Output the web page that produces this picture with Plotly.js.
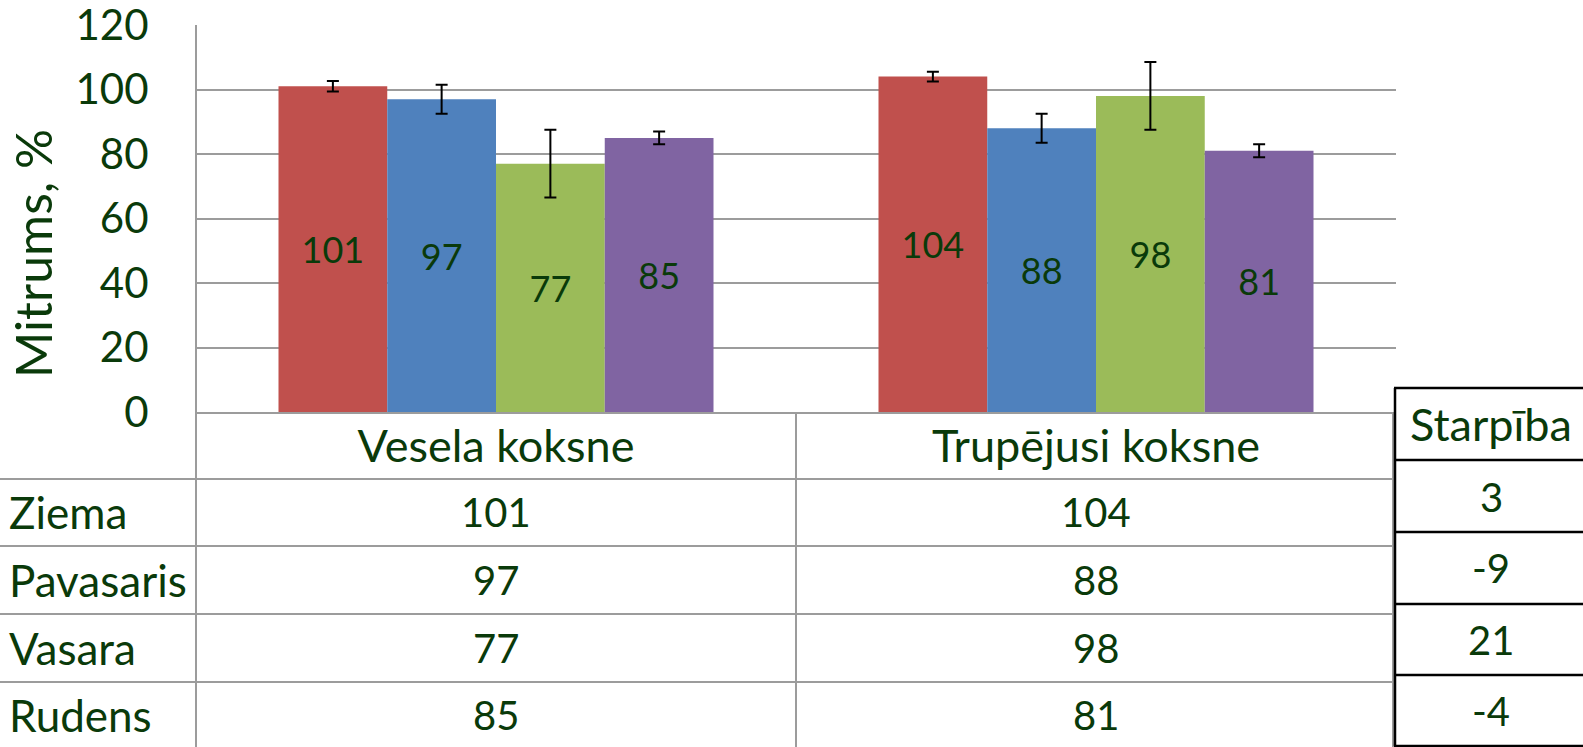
<!DOCTYPE html>
<html>
<head>
<meta charset="utf-8">
<script src="https://cdn.plot.ly/plotly-3.0.1.min.js"></script>
<style>
  html, body { margin: 0; padding: 0; background: #fff; }
  #chart { width: 1583px; height: 747px; }
</style>
</head>
<body>
<div id="chart"></div>
<script>
// data
var categories = ["Vesela koksne", "Trupējusi koksne"];
var seasons = ["Ziema", "Pavasaris", "Vasara", "Rudens"];
var ziema = [101, 104];
var pavasaris = [97, 88];
var vasara = [77, 98];
var rudens = [85, 81];
// error bar half-lengths (estimated)
var ziemaErr = [1.6, 1.5];
var pavasarisErr = [4.5, 4.5];
var vasaraErr = [10.5, 10.5];
var rudensErr = [2, 2];
var starpiba = [3, -9, 21, -4];

var colors = ["#C0504D", "#4F81BD", "#9BBB59", "#8064A2"];
var green = "#0a3a0a";
var font = "Lato, 'Open Sans', sans-serif";

var values = [ziema, pavasaris, vasara, rudens];
var errs = [ziemaErr, pavasarisErr, vasaraErr, rudensErr];

// plot area in pixels: left 196, right 1396, top 25, bottom 412
var L = 196, R = 1396, T = 25, B = 412;
function px(x) { return (x - L) / (R - L); }
function py(y) { return (B - y) / (B - T); }

var data = [];
for (var i = 0; i < seasons.length; i++) {
    data.push({
        type: "bar",
        name: seasons[i],
        x: categories,
        y: values[i],
        text: values[i].map(String),
        textposition: "inside",
        insidetextanchor: "middle",
        textangle: 0,
        textfont: {family: font, size: 36, color: green},
        marker: {color: colors[i]},
        error_y: {type: "data", array: errs[i], visible: true, color: "#000", thickness: 2, width: 6},
        hoverinfo: "none"
    });
}

var grey = "#9c9c9c";
var shapes = [];
function line(x0, y0, x1, y1, color, w) {
    shapes.push({type: "line", xref: "paper", yref: "paper",
        x0: px(x0), y0: py(y0), x1: px(x1), y1: py(y1),
        line: {color: color, width: w}});
}
// left axis line down through the table
line(196, 25, 196, 760, grey, 2);
// table grid
var rowLines = [479, 546, 614, 682];
rowLines.forEach(function (y) { line(0, y, 1394, y, grey, 2); });
line(796, 412, 796, 760, grey, 2);
line(1393, 412, 1393, 760, grey, 2);
// Starpība box
var boxLines = [388, 460, 532, 604, 675, 746];
boxLines.forEach(function (y) { line(1394, y, 1600, y, "#000", 2.5); });
line(1395, 388, 1395, 746, "#000", 2.5);

var annotations = [];
var rowY = [512, 580, 648, 715];
function note(text, x, y, anchor, size, xref) {
    annotations.push({text: text, xref: xref || "paper", yref: "paper",
        x: xref ? x : px(x), y: py(y), xanchor: anchor, yanchor: "middle",
        showarrow: false, font: {family: font, size: size, color: green}});
}
for (var r = 0; r < seasons.length; r++) {
    note(seasons[r], 7, rowY[r], "left", 44);
    note(String(values[r][0]), categories[0], rowY[r], "center", 40, "x");
    note(String(values[r][1]), categories[1], rowY[r], "center", 40, "x");
}
note("Starpība", 1491, 424, "center", 45);
var boxY = [497, 568, 640, 711];
for (var s = 0; s < starpiba.length; s++) {
    note(String(starpiba[s]), 1491, boxY[s], "center", 40);
}
// y axis title, placed lower than the plot centre as in the original
annotations.push({text: "Mitrums, %", xref: "paper", yref: "paper",
    x: px(33), y: py(254), xanchor: "center", yanchor: "middle", textangle: -90,
    showarrow: false, font: {family: font, size: 50, color: green}});

var layout = {
    width: 1583,
    height: 747,
    margin: {l: L, r: 1583 - R, t: T, b: 747 - B, pad: 0},
    paper_bgcolor: "#fff",
    plot_bgcolor: "#fff",
    showlegend: false,
    bargap: 0.275,
    bargroupgap: 0,
    barmode: "group",
    font: {family: font, color: green},
    xaxis: {
        type: "category",
        showgrid: false,
        showline: true,
        linecolor: grey,
        linewidth: 2,
        ticks: "",
        ticklabelstandoff: -6,
        tickfont: {family: font, size: 45, color: green},
        fixedrange: true
    },
    yaxis: {
        range: [0, 120],
        dtick: 20,
        showgrid: true,
        gridcolor: grey,
        gridwidth: 2,
        zeroline: false,
        showline: false,
        ticks: "outside",
        ticklen: 38,
        tickcolor: "rgba(0,0,0,0)",
        ticklabeloverflow: "allow",
        tickfont: {family: font, size: 42, color: green},
        fixedrange: true
    },
    shapes: shapes,
    annotations: annotations
};

Plotly.newPlot("chart", data, layout, {displayModeBar: false, staticPlot: true});
</script>
</body>
</html>
